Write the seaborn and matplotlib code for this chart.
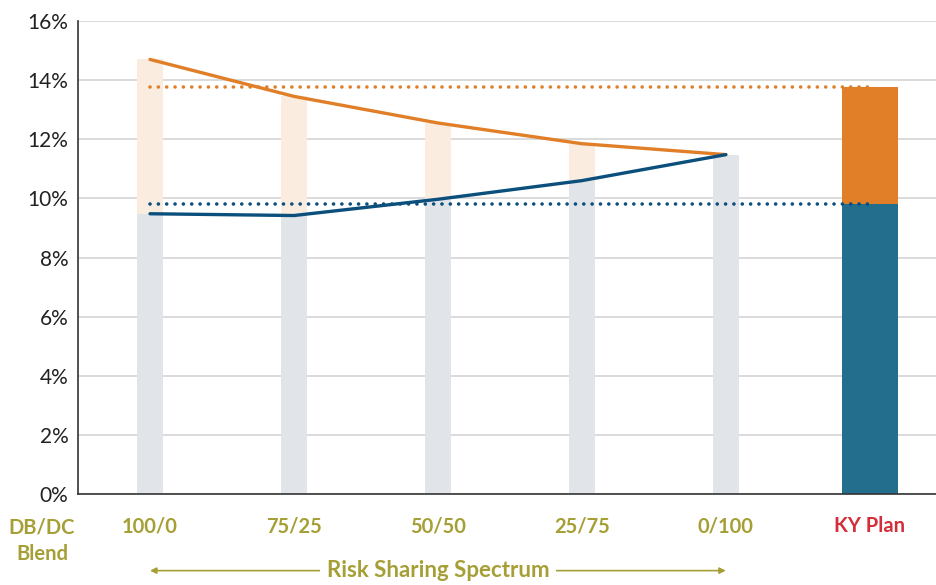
import numpy as np
import pandas as pd
import matplotlib
matplotlib.use('Agg')
import matplotlib.pyplot as plt
import seaborn as sns

# Data (contribution rates, %)
blends = ['100/0', '75/25', '50/50', '25/75', '0/100']
ky_label = 'KY Plan'
high_cost = [14.7, 13.45, 12.55, 11.85, 11.48]   # orange line
low_cost = [9.48, 9.42, 9.97, 10.6, 11.48]       # blue line
ky_total = 13.77
ky_base = 9.8
yticks = [0, 2, 4, 6, 8, 10, 12, 14, 16]

# Colours
ORANGE = '#e07f27'
BLUE = '#0b4f7c'
TEAL = '#236e8c'
PEACH = '#fbece0'
GREY = '#e1e4e8'
OLIVE = '#a59f36'
RED = '#d22f3b'

sns.set_theme(style='white')
plt.rcParams['font.family'] = ['Lato', 'DejaVu Sans']

cats = blends + [ky_label]
df = pd.DataFrame({'blend': blends, 'high': high_cost, 'low': low_cost})
ky = pd.DataFrame({'blend': [ky_label], 'total': [ky_total], 'base': [ky_base]})

fig = plt.figure(figsize=(9.36, 5.85), dpi=100)
ax = fig.add_axes([78 / 936, 1 - 494 / 585, 1 - 78 / 936, (494 - 21) / 585])

# grid first
ax.set_axisbelow(True)
ax.yaxis.grid(True, color='#d4d4d4', lw=1.2)

bar_kw = dict(order=cats, saturation=1, linewidth=0, ax=ax)
# spectrum bars: peach full range, grey overlay up to low-cost line
sns.barplot(data=df, x='blend', y='high', color=PEACH, width=0.18, **bar_kw)
sns.barplot(data=df, x='blend', y='low', color=GREY, width=0.18, **bar_kw)
# KY plan stacked bar
sns.barplot(data=ky, x='blend', y='total', color=ORANGE, width=0.39, **bar_kw)
sns.barplot(data=ky, x='blend', y='base', color=TEAL, width=0.39, **bar_kw)

pos = np.arange(len(blends))
ky_pos = cats.index(ky_label)

# KY reference dotted lines
dots = dict(lw=2.6, linestyle=(0, (0.01, 2.3)), dash_capstyle='round')
ax.plot([pos[0], ky_pos], [ky_total, ky_total], color=ORANGE, **dots)
ax.plot([pos[0], ky_pos], [ky_base, ky_base], color=BLUE, **dots)

sns.lineplot(x=pos, y=high_cost, color=ORANGE, lw=2.4, ax=ax)
sns.lineplot(x=pos, y=low_cost, color=BLUE, lw=2.4, ax=ax)

ax.set_ylim(0, 16)
ax.set_xlim(-0.5, 5.46)
ax.set_yticks(yticks)
ax.set_yticklabels([f'{t}%' for t in yticks], fontsize=15, color='#222222')
ax.set_xlabel('')
ax.set_ylabel('')
ax.tick_params(axis='y', length=0, pad=7)
ax.tick_params(axis='x', length=0, pad=16)
ax.set_xticks(range(len(cats)))
ax.set_xticklabels(cats, fontsize=14.5, fontweight='bold')
for lbl in ax.get_xticklabels():
    lbl.set_color(RED if lbl.get_text() == ky_label else OLIVE)

for side in ['top', 'right']:
    ax.spines[side].set_visible(False)
for side in ['left', 'bottom']:
    ax.spines[side].set_color('#333333')
    ax.spines[side].set_linewidth(1.2)

fig.text(42 / 936, 1 - 541 / 585, 'DB/DC\nBlend', ha='center', va='center',
         fontsize=14.5, fontweight='bold', color=OLIVE, linespacing=1.4)

# Risk sharing spectrum arrow
ax.annotate('', xy=(pos[0], -0.162), xytext=(pos[-1], -0.162),
            xycoords=('data', 'axes fraction'), textcoords=('data', 'axes fraction'),
            arrowprops=dict(arrowstyle='<|-|>', color=OLIVE, lw=1.2,
                            mutation_scale=9, shrinkA=0, shrinkB=0),
            annotation_clip=False)
ax.text(pos[2], -0.162, 'Risk Sharing Spectrum', transform=ax.get_xaxis_transform(),
        ha='center', va='center', fontsize=16, fontweight='bold', color=OLIVE,
        bbox=dict(facecolor='white', edgecolor='none', pad=5))

fig.savefig('out.png', dpi=100)
